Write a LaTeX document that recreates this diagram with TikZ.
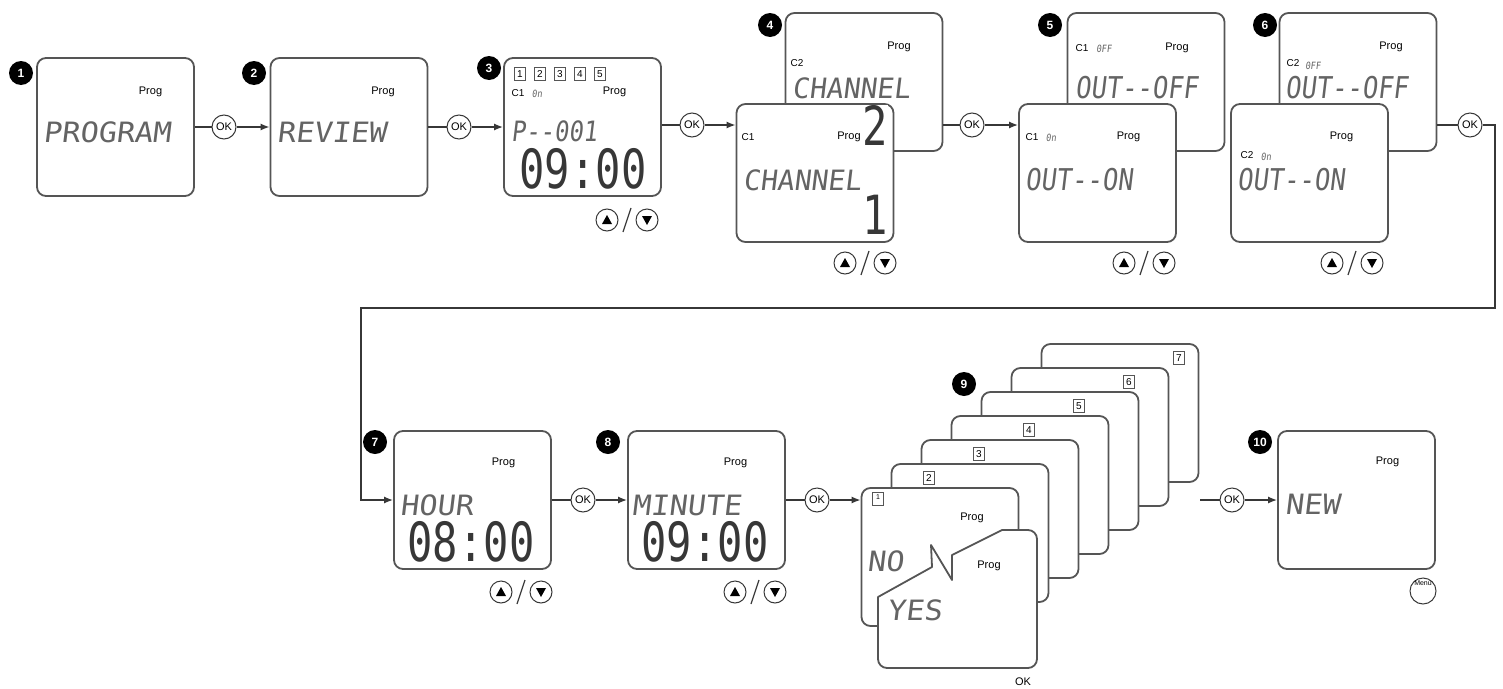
\documentclass[tikz,border=0pt]{standalone}
\usepackage{fontspec}
\setmainfont{Liberation Sans}
\newfontfamily\lcdfont[FakeSlant=0.12, FakeStretch=1.08]{DejaVu Sans Mono}
\newfontfamily\lcdmid[FakeSlant=0.12]{DejaVu Sans Mono}
\newfontfamily\lcdslim[FakeSlant=0.12, FakeStretch=0.85]{DejaVu Sans Mono}
\newfontfamily\lcdbig[FakeStretch=0.78]{DejaVu Sans Mono}
\usetikzlibrary{arrows.meta, positioning}
\definecolor{frame1}{RGB}{85, 85, 85}
\definecolor{wire1}{RGB}{55, 55, 55}
\definecolor{segment1}{RGB}{100, 100, 100}
\newcommand{\dashes}{\mbox{-}\mbox{-}}

\tikzset{
  screen/.style={draw=frame1, line width=1.8pt, rounded corners=9pt, fill=white,
    minimum width=157pt, minimum height=138pt, inner sep=0pt},
  badge/.style={circle, fill=black, text=white, font=\bfseries\fontsize{12}{12}\selectfont,
    minimum size=24pt, inner sep=0pt},
  okkey/.style={circle, draw=wire1, line width=1pt, fill=white, minimum size=24pt,
    inner sep=0pt, font=\fontsize{11}{11}\selectfont},
  arrowkey/.style={circle, draw=wire1, line width=1pt, fill=white, minimum size=22pt, inner sep=0pt},
  prog/.style={font=\fontsize{11}{11}\selectfont, inner sep=0pt},
  chan/.style={font=\fontsize{10}{10}\selectfont, inner sep=0pt},
  onoff/.style={font=\lcdslim\fontsize{10}{10}\selectfont, text=segment1, inner sep=0pt},
  lcd/.style={font=\lcdfont\fontsize{28}{28}\selectfont, text=segment1, anchor=west, inner sep=0pt},
  lcdmid/.style={lcd, font=\lcdmid\fontsize{28}{28}\selectfont},
  lcdslim/.style={lcd, font=\lcdslim\fontsize{30}{30}\selectfont},
  digits/.style={font=\lcdbig\fontsize{54}{54}\selectfont, text=wire1, inner sep=0pt},
  numbox/.style={draw=frame1, line width=0.8pt, fill=white, font=\fontsize{10}{10}\selectfont,
    minimum width=11pt, minimum height=13pt, inner sep=0pt},
  wire/.style={draw=wire1, line width=1.5pt},
  flow/.style={wire, -{Latex[length=9pt, width=7pt]}},
  updown/.pic={
    \node[arrowkey] (-up) at (-20,0) {};
    \node[arrowkey] (-dn) at (20,0) {};
    \fill[black] (-25,4) -- (-15,4) -- (-20,-5) -- cycle;
    \fill[black] (15,-4) -- (25,-4) -- (20,5) -- cycle;
    \draw[wire1, line width=1.2pt] (-4,12) -- (4,-12);
  },
}

\begin{document}
\begin{tikzpicture}[x=1pt, y=-1pt]
  \useasboundingbox (0,0) rectangle (1503,688);

  % 1 and 2
  \node[screen] (s1) at (115.5,127) {};
  \node[badge] (b1) at (21,73) {1};
  \node[prog] (s1p) at ([shift={(35,-35)}]s1.center) {Prog};
  \node[lcd] (s1t) at (43,132) {PROGRAM};

  \node[screen] (s2) at (349,127) {};
  \node[badge] (b2) at (254,73) {2};
  \node[prog] (s2p) at ([shift={(34,-35)}]s2.center) {Prog};
  \node[lcd] (s2t) at (277,132) {REVIEW};

  % 3
  \node[screen] (s3) at (582.5,127) {};
  \node[badge] (b3) at (489,68) {3};
  \foreach \i in {1,...,5}
    \node[numbox] (q\i) at (500+20*\i,74) {\i};
  \node[chan] (s3c) at (518,93) {C1};
  \node[onoff] (s3o) at (537,94) {0n};
  \node[prog] (s3p) at ([shift={(32,-35)}]s3.center) {Prog};
  \node[lcdslim, font=\lcdslim\fontsize{28}{28}\selectfont] (s3t) at (511,131) {P\dashes001};
  \node[digits] (s3d) at (583,169) {09:00};
  \pic (k3) at (627,220) {updown};

  \node[okkey] (ok1) at (224,127) {OK};
  \node[okkey] (ok2) at (459,127) {OK};
  \draw[wire] (s1) -- (ok1);
  \draw[flow] (ok1) -- (s2);
  \draw[wire] (s2) -- (ok2);
  \draw[flow] (ok2) -- (s3);

  % 4
  \node[screen] (s4b) at (864,82) {};
  \node[badge] (b4) at (770,25) {4};
  \node[prog] (s4bp) at ([shift={(35,-35)}]s4b.center) {Prog};
  \node[chan] (s4bc) at (797,63) {C2};
  \node[lcdmid] (s4bt) at (792,88) {CHANNEL};
  \node[screen] (s4f) at (815,173) {};
  \node[digits, fill=white, inner sep=0pt] (s4bd) at (875,125) {2};
  \node[chan] (s4fc) at (748,137) {C1};
  \node[prog] (s4fp) at ([shift={(34,-36)}]s4f.center) {Prog};
  \node[lcdmid] (s4ft) at (743,180) {CHANNEL};
  \node[digits] (s4fd) at (875,215) {1};
  \pic (k4) at (865,263) {updown};

  \node[okkey] (ok3) at (692,125) {OK};
  \draw[wire] (s3.east |- ok3) -- (ok3);
  \draw[flow] (ok3) -- (ok3 -| s4f.west);

  % 5
  \node[screen] (s5b) at (1146,82) {};
  \node[badge] (b5) at (1050,25) {5};
  \node[chan] (s5bc) at (1082,48) {C1};
  \node[onoff] (s5bo) at (1104,49) {0FF};
  \node[prog] (s5bp) at ([shift={(31,-34)}]s5b.center) {Prog};
  \node[lcdslim] (s5bt) at (1075,88) {OUT\dashes OFF};
  \node[screen] (s5f) at (1097.5,173) {};
  \node[chan] (s5fc) at (1032,137) {C1};
  \node[onoff] (s5fo) at (1051,138) {0n};
  \node[prog] (s5fp) at ([shift={(31,-36)}]s5f.center) {Prog};
  \node[lcdslim] (s5ft) at (1025,180) {OUT\dashes ON};
  \pic (k5) at (1144,263) {updown};

  \node[okkey] (ok4) at (972,125) {OK};
  \draw[wire] (ok4 -| s4b.east) -- (ok4);
  \draw[flow] (ok4) -- (ok4 -| s5f.west);

  % 6
  \node[screen] (s6b) at (1358,82) {};
  \node[badge] (b6) at (1265,25) {6};
  \node[prog] (s6bp) at ([shift={(33,-35)}]s6b.center) {Prog};
  \node[chan] (s6bc) at (1293,63) {C2};
  \node[onoff] (s6bo) at (1313,66) {0FF};
  \node[lcdslim] (s6bt) at (1285,88) {OUT\dashes OFF};
  \node[screen] (s6f) at (1309.5,173) {};
  \node[prog] (s6fp) at ([shift={(32,-36)}]s6f.center) {Prog};
  \node[chan] (s6fc) at (1247,155) {C2};
  \node[onoff] (s6fo) at (1266,157) {0n};
  \node[lcdslim] (s6ft) at (1237,180) {OUT\dashes ON};
  \pic (k6) at (1352,263) {updown};

  \node[okkey] (ok5) at (1470,125) {OK};
  \draw[wire] (ok5 -| s6b.east) -- (ok5);

  % 7 and 8
  \node[screen] (s7) at (472.5,500) {};
  \node[badge] (b7) at (375,442) {7};
  \node[prog] (s7p) at ([shift={(31,-37)}]s7.center) {Prog};
  \node[lcd] (s7t) at (400,505) {HOUR};
  \node[digits] (s7d) at (471,542) {08:00};
  \pic (k7) at (521,592) {updown};

  \coordinate (bendR) at (1495,308);
  \coordinate (bendL) at (361,308);
  \draw[flow] (ok5) -- (ok5 -| bendR) -- (bendR) -- (bendL) -- (bendL |- s7.west) -- (s7.west);

  \node[screen] (s8) at (706.5,500) {};
  \node[badge] (b8) at (608,442) {8};
  \node[prog] (s8p) at ([shift={(29,-37)}]s8.center) {Prog};
  \node[lcd] (s8t) at (632,505) {MINUTE};
  \node[digits] (s8d) at (705,542) {09:00};
  \pic (k8) at (755,592) {updown};

  \node[okkey] (ok7) at (583,500) {OK};
  \draw[wire] (s7) -- (ok7);
  \draw[flow] (ok7) -- (s8);

  % 9
  \foreach \k in {7,6,...,2}{
    \node[screen] (p\k) at (910+30*\k,581-24*\k) {};
    \node[numbox] (n\k) at (829+50*\k,526-24*\k) {\k};
  }
  \node[badge] (b9) at (964,384) {9};
  \node[screen] (p1) at (940,557) {};
  \node[numbox] (n1) at (878,499) {\raisebox{3pt}{\scriptsize 1}};
  \node[prog] (p1p) at ([shift={(32,-39)}]p1.center) {Prog};
  \node[lcd] (p1t) at (867,561) {NO};
  \filldraw[draw=frame1, fill=white, line width=1.8pt, line join=round]
    (878,597) -- (932,567) -- (931,545) -- (952,580) -- (952,555) -- (1002,530)
    [rounded corners=9pt] -- (1037,530) -- (1037,668) -- (878,668) -- (878,620)
    [sharp corners] -- cycle;
  \node[prog] (yesp) at (989,566) {Prog};
  \node[lcd] (yest) at (887,610) {YES};
  \node[prog] (okt) at (1023,682) {OK};

  \node[okkey] (ok8) at (817,500) {OK};
  \draw[wire] (s8) -- (ok8);
  \draw[flow] (ok8) -- (ok8 -| p1.west);

  % 10
  \node[screen] (s10) at (1356.5,500) {};
  \node[badge] (b10) at (1260,442) {10};
  \node[prog] (s10p) at ([shift={(31,-38)}]s10.center) {Prog};
  \node[lcd] (s10t) at (1285,504) {NEW};
  \node[arrowkey, minimum size=26pt] (menu) at (1423,591) {};
  \node[font=\fontsize{7}{7}\selectfont, inner sep=0pt] (menut) at (1423,583) {Menu};

  \coordinate (fromstack) at (1200,500);
  \node[okkey] (ok9) at (1232,500) {OK};
  \draw[wire] (fromstack) -- (ok9);
  \draw[flow] (ok9) -- (s10);
\end{tikzpicture}
\end{document}
